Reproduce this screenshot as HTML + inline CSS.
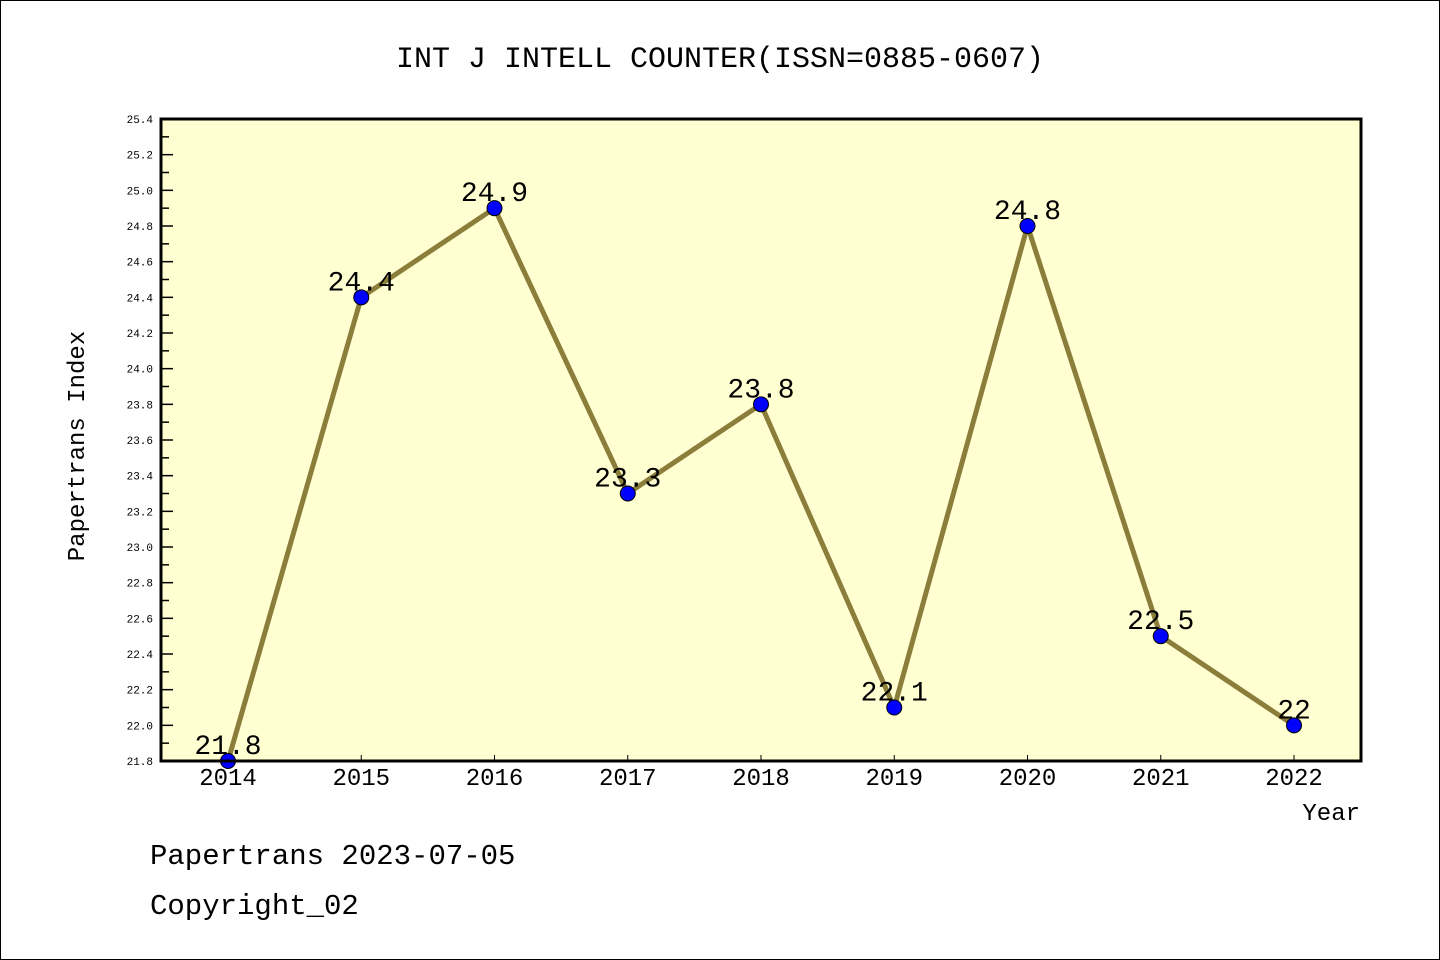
<!DOCTYPE html>
<html><head><meta charset="utf-8"><style>
body{margin:0;background:#fff}
svg{display:block;font-family:"WenQuanYi Zen Hei","Liberation Mono",monospace}
</style></head><body>
<svg id="c" width="1440" height="960">
<rect x="0.5" y="0.5" width="1439" height="959" fill="#fff" stroke="#000"/>
<text x="720" y="67" font-size="30" text-anchor="middle">INT J INTELL COUNTER(ISSN=0885-0607)</text>
<rect x="161" y="119" width="1200" height="642" fill="#ffffd2"/>
<g id="ticks"></g>
<g id="series"></g>
<rect x="161" y="119" width="1200" height="642" fill="none" stroke="#000" stroke-width="3"/>
<text transform="translate(84,446) rotate(-90)" font-size="24" text-anchor="middle">Papertrans Index</text>
<text x="1360" y="820" font-size="24" text-anchor="end">Year</text>
<text x="150" y="864" font-size="29">Papertrans 2023-07-05</text>
<text x="150" y="914" font-size="29">Copyright_02</text>
</svg>
<script>
const years=["2014","2015","2016","2017","2018","2019","2020","2021","2022"];
const values=[21.8,24.4,24.9,23.3,23.8,22.1,24.8,22.5,22.0];
const valueLabels=["21.8","24.4","24.9","23.3","23.8","22.1","24.8","22.5","22"];
const yTicks=["21.8","22.0","22.2","22.4","22.6","22.8","23.0","23.2","23.4","23.6","23.8","24.0","24.2","24.4","24.6","24.8","25.0","25.2","25.4"];
const NS="http://www.w3.org/2000/svg";
const yMin=21.8,yMax=25.4,plotTop=119,plotBot=761;
const y=v=>plotBot-(v-yMin)/(yMax-yMin)*(plotBot-plotTop);
const x=i=>228+i*(1294-228)/(years.length-1);
function mk(t,a,p){const e=document.createElementNS(NS,t);for(const k in a)e.setAttribute(k,a[k]);p.appendChild(e);return e;}
const tg=document.getElementById('ticks'),sg=document.getElementById('series');
yTicks.forEach((t,i)=>{const v=parseFloat(t);const yy=y(v);
const l=mk('line',{x1:161,x2:173,y1:yy,y2:yy,stroke:'#000','stroke-width':1.5},tg);


if(i<yTicks.length-1){const ym=y(v+0.1);const m=mk('line',{x1:161,x2:169,y1:ym,y2:ym,stroke:'#000','stroke-width':1.5},tg);

}
const tx=mk('text',{x:153,y:yy+4,'font-size':11,'text-anchor':'end'},tg);tx.textContent=t;

});
years.forEach((yr,i)=>{const xx=x(i);
const l=mk('line',{x1:xx,x2:xx,y1:761,y2:755,stroke:'#000','stroke-width':1},tg);


const t=mk('text',{x:xx,y:785,'font-size':24,'text-anchor':'middle'},tg);t.textContent=yr;

});
const pl=mk('polyline',{points:values.map((v,i)=>x(i)+','+y(v)).join(' '),fill:'none',stroke:'#8b7d3a','stroke-width':5,'stroke-linejoin':'miter'},sg);


values.forEach((v,i)=>{
const t=mk('text',{x:x(i),y:y(v)-7,'font-size':28,'text-anchor':'middle'},sg);t.textContent=valueLabels[i];


const c=mk('circle',{cx:x(i),cy:y(v),r:7.5,fill:'#0000ff',stroke:'#000','stroke-width':1},sg);

});
</script>
</body></html>
